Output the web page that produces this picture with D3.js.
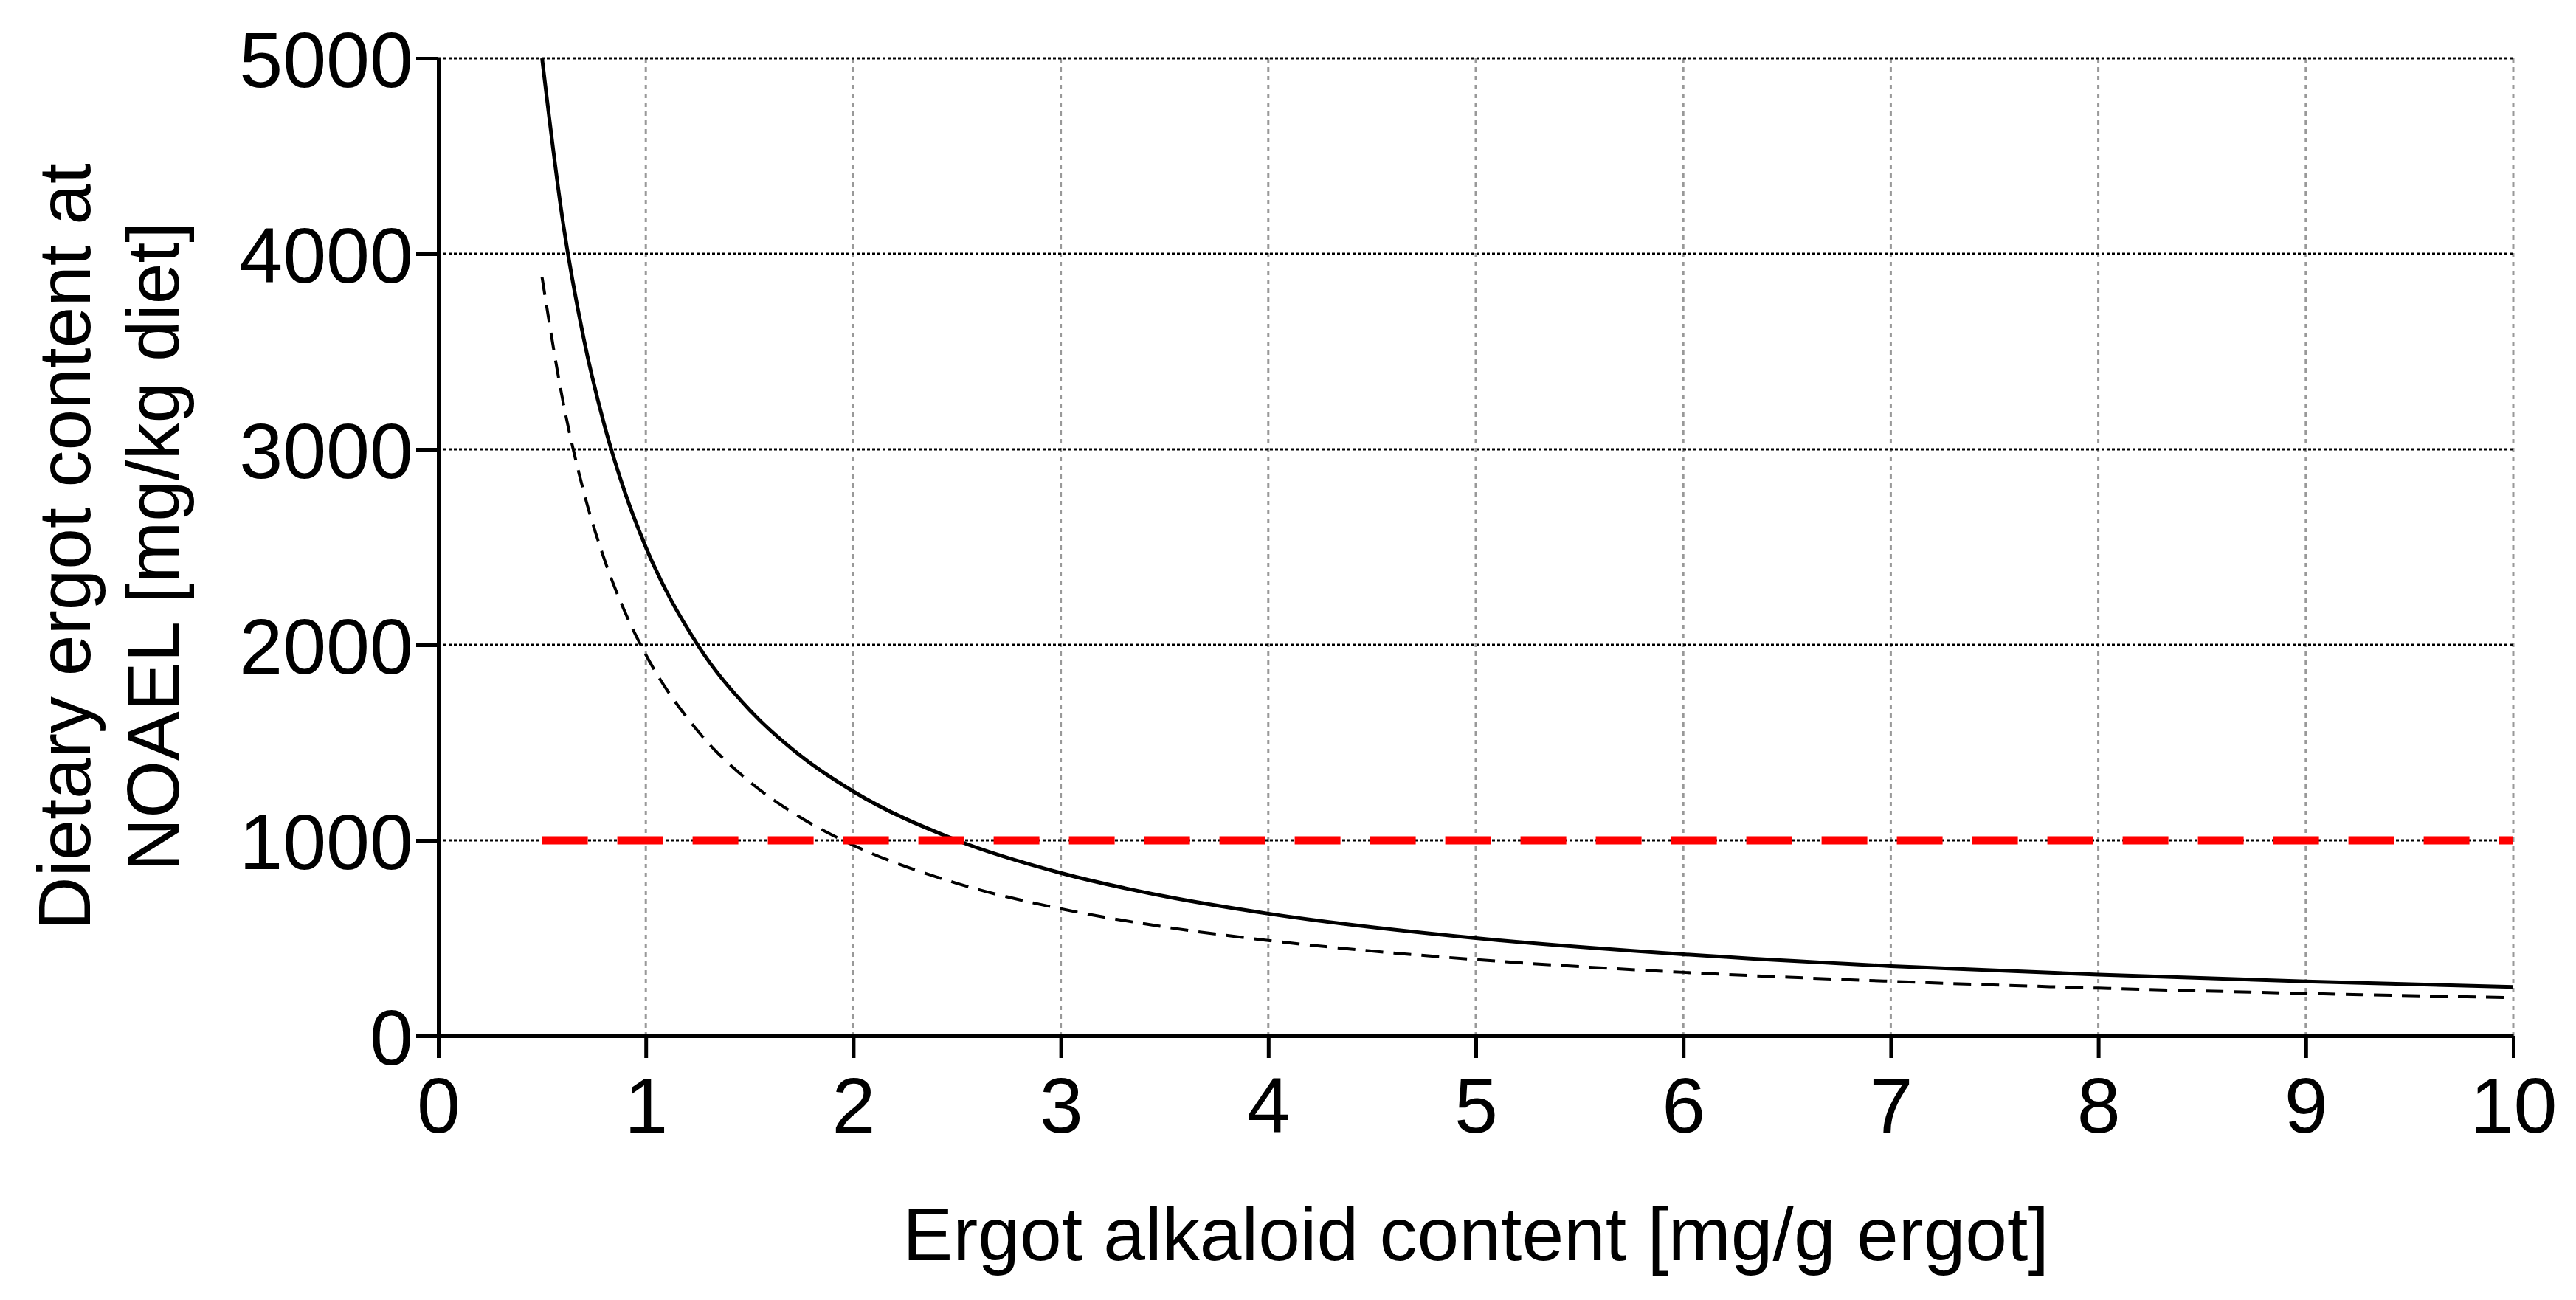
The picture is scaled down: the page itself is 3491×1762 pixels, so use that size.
<!DOCTYPE html>
<html><head><meta charset="utf-8">
<script src="https://cdn.jsdelivr.net/npm/d3@7"></script>
<style>body{margin:0;background:#fff}</style></head>
<body><svg id="c" width="3491" height="1762"></svg>
<script>
const xTicks=[0,1,2,3,4,5,6,7,8,9,10];
const yTicks=[0,1000,2000,3000,4000,5000];
const xs=[0.5,0.6,0.7,0.8,0.9,1,1.25,1.5,1.75,2,2.5,3,3.5,4,5,6,7,8,9,10];
const solidY=[5000,4167,3571,3125,2778,2500,2000,1667,1429,1250,1000,833,714,625,500,417,357,313,278,250];
const dashedY=[3880,3250,2786,2438,2167,1950,1560,1300,1114,975,780,650,557,488,390,325,279,244,217,195];
const thresholdX=[0.5,10];
const thresholdY=[1000,1000];

const svg=d3.select("#c");
const L=594,R=3406,T=79,B=1404;
const x=d3.scaleLinear().domain([0,10]).range([L,R]);
const y=d3.scaleLinear().domain([0,5000]).range([B,T]);
const font="Liberation Sans, Arial, sans-serif";

svg.append("g").selectAll("line").data(xTicks.slice(1)).join("line")
 .attr("x1",d=>x(d)).attr("x2",d=>x(d)).attr("y1",T).attr("y2",B)
 .attr("stroke","#999").attr("stroke-width",3).attr("stroke-dasharray","6,6");
svg.append("g").selectAll("line").data(yTicks.slice(1)).join("line")
 .attr("x1",L).attr("x2",R).attr("y1",d=>y(d)).attr("y2",d=>y(d))
 .attr("stroke","#000").attr("stroke-width",3).attr("stroke-dasharray","4,3");

const xa=svg.append("g").attr("transform",`translate(0,${B})`)
 .call(d3.axisBottom(x).tickValues(xTicks).tickFormat(d3.format("d")).tickSize(30).tickPadding(26).tickSizeOuter(0));
const ya=svg.append("g").attr("transform",`translate(${L},0)`)
 .call(d3.axisLeft(y).tickValues(yTicks).tickFormat(d3.format("d")).tickSize(30).tickPadding(4).tickSizeOuter(0));
[xa,ya].forEach(a=>{
 a.select(".domain").attr("stroke","#000").attr("stroke-width",5);
 a.selectAll(".tick line").attr("stroke","#000").attr("stroke-width",5);
 a.selectAll("text").attr("font-family",font).attr("font-size",106).attr("fill","#000");
});
ya.selectAll(".tick text").attr("dy","0.36em");

const line=d3.line().x(d=>x(d[0])).y(d=>y(d[1])).curve(d3.curveMonotoneX);
svg.append("path").attr("d",line(xs.map((v,i)=>[v,solidY[i]])))
 .attr("fill","none").attr("stroke","#000").attr("stroke-width",5);
svg.append("path").attr("d",line(xs.map((v,i)=>[v,dashedY[i]])))
 .attr("fill","none").attr("stroke","#000").attr("stroke-width",4).attr("stroke-dasharray","24,14");
svg.append("path").attr("d",d3.line().x(d=>x(d[0])).y(d=>y(d[1]))(thresholdX.map((v,i)=>[v,thresholdY[i]])))
 .attr("fill","none").attr("stroke","#ff0000").attr("stroke-width",11).attr("stroke-dasharray","62,40");

svg.append("text").attr("x",(L+R)/2).attr("y",1708).attr("text-anchor","middle")
 .attr("font-family",font).attr("font-size",102).text("Ergot alkaloid content [mg/g ergot]");
const yt=svg.append("text").attr("transform","translate(122,741) rotate(-90)")
 .attr("text-anchor","middle").attr("font-family",font).attr("font-size",100);
yt.append("tspan").attr("x",0).attr("y",0).text("Dietary ergot content at");
yt.append("tspan").attr("x",0).attr("y",120).text("NOAEL [mg/kg diet]");
</script></body></html>
